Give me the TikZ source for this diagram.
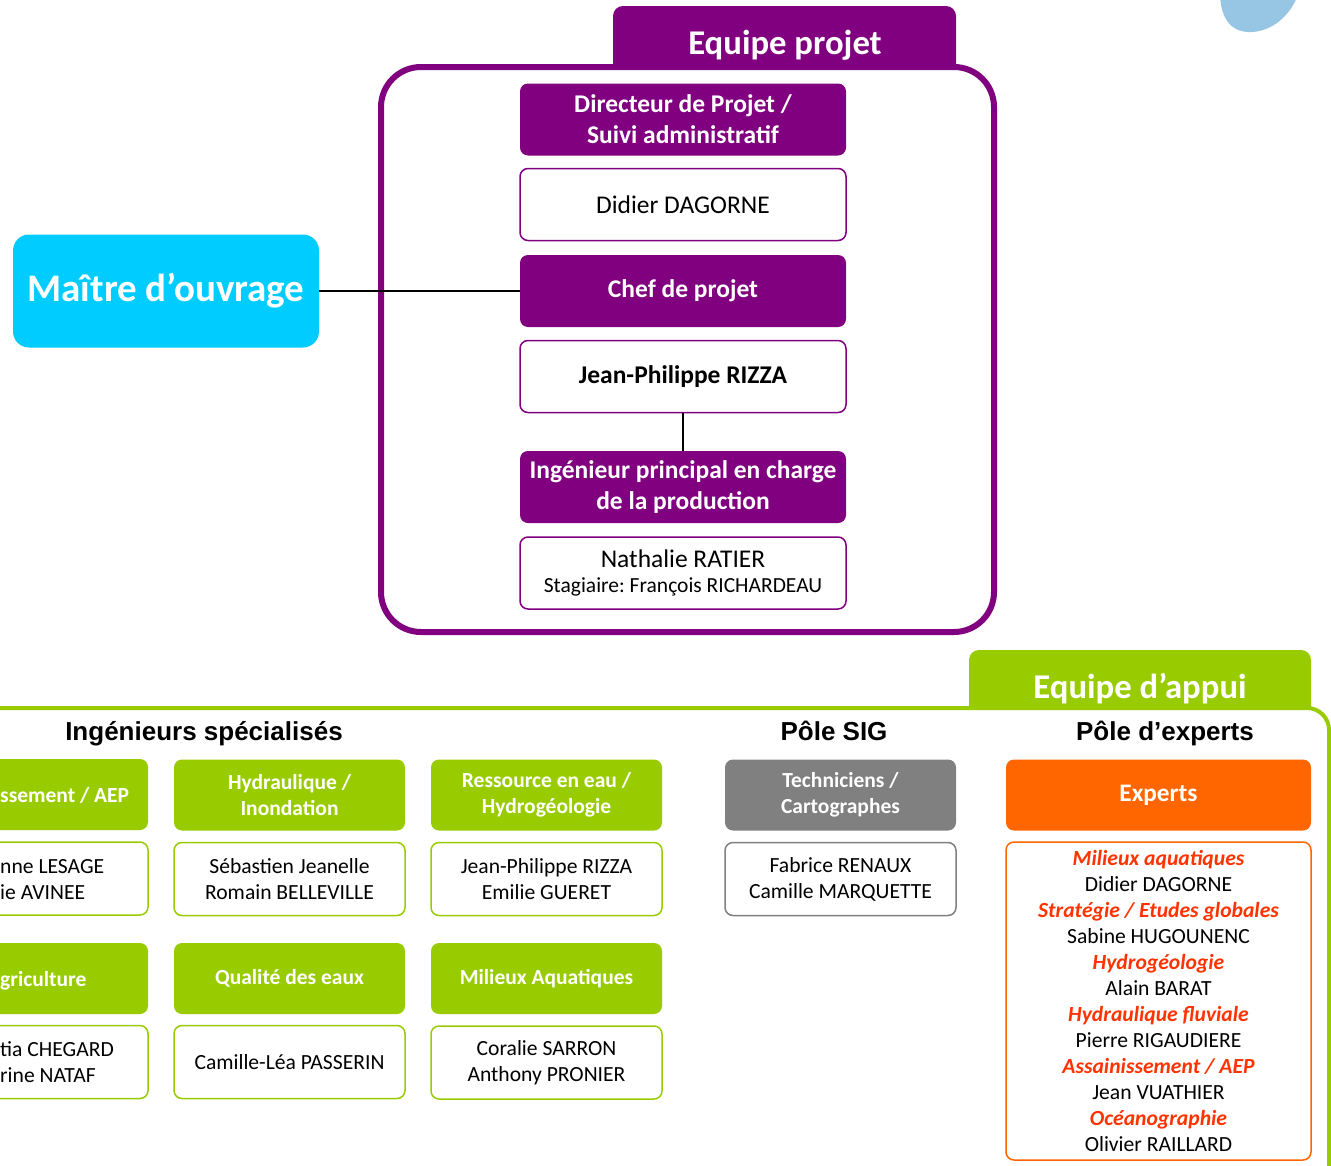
\documentclass[tikz,border=0pt]{standalone}
\usepackage{fontspec}
\setmainfont{Carlito}
\newfontfamily\arialfont{Liberation Sans}
\definecolor{projpurple}{RGB}{128,0,128}
\definecolor{moblue}{RGB}{0,204,255}
\definecolor{appuigreen}{RGB}{153,204,0}
\definecolor{sigrey}{RGB}{128,128,128}
\definecolor{exporange}{RGB}{255,102,0}
\definecolor{expred}{RGB}{255,51,0}
\definecolor{blobblue}{RGB}{150,198,228}
\newcommand{\exph}[1]{{\color{expred}\bfseries\itshape #1}}
\frenchspacing
\tikzset{
  projtitle/.style={rounded corners=8, inner sep=0pt, minimum width=326pt,
    minimum height=72pt, align=center, fill=projpurple, text=white,
    font=\fontsize{25.5}{31}\selectfont\bfseries},
  projname/.style={projtitle, fill=white, draw=projpurple, line width=1.5pt,
    text=black, font=\fontsize{25.5}{28}\selectfont},
  spectitle/.style={rounded corners=8, inner sep=0pt, minimum width=231pt,
    minimum height=71pt, align=center, fill=appuigreen, text=white,
    font=\fontsize{21.5}{26}\selectfont\bfseries},
  specname/.style={rounded corners=8, inner sep=0pt, minimum width=231pt,
    minimum height=73pt, align=center, fill=white, draw=appuigreen,
    line width=1.5pt, font=\fontsize{21.6}{26}\selectfont},
  sigtitle/.style={spectitle, fill=sigrey},
  signame/.style={specname, draw=sigrey},
  poletitle/.style={anchor=base, font=\arialfont\fontsize{26}{28}\selectfont\bfseries},
  tabtext/.style={text=white, font=\fontsize{34.7}{36}\selectfont\bfseries},
  cut/.style={anchor=base west, inner sep=0pt, font=\fontsize{21.6}{26}\selectfont},
  cuttitle/.style={cut, text=white, font=\fontsize{21.5}{26}\selectfont\bfseries}
}
\begin{document}
\begin{tikzpicture}[x=1pt, y=-1pt]
  \clip (0,0) rectangle (1331,1165);
  \fill[white] (0,0) rectangle (1331,1165);
  % blob in the corner
  \fill[blobblue] (1220,-5) .. controls (1221,22) and (1234,33) .. (1252,32)
    .. controls (1272,31) and (1290,16) .. (1298,-5) -- cycle;

  % equipe projet
  \fill[projpurple] (613,66) [rounded corners=10] -- (613,6) -- (956,6)
    [sharp corners] -- (956,66) -- cycle;
  \node[tabtext] (projtab) at (785,45) {Equipe projet};
  \draw[projpurple, line width=6pt, rounded corners=40] (381,67) rectangle (994,632);

  \node[projtitle] (dirtitle) at (683,119.5) {Directeur de Projet /\\Suivi administratif};
  \node[projname] (dirname) at (683,204.5) {Didier DAGORNE};
  \node[projtitle] (cheftitle) at (683,291) {Chef de projet};
  \node[projname, font=\fontsize{25.5}{28}\selectfont\bfseries] (chefname) at (683,376.5) {Jean-Philippe RIZZA};
  \node[projtitle] (ingtitle) at (683,487) {Ingénieur principal en charge\\de la production};
  \node[projname] (ingname) at (683,573) {Nathalie RATIER\\[-3pt]{\fontsize{21.5}{24}\selectfont Stagiaire: François RICHARDEAU}};

  \node[rounded corners=16, fill=moblue, inner sep=0pt, minimum width=306pt,
    minimum height=113pt, text=white, font=\fontsize{39}{40}\selectfont\bfseries]
    (mo) at (166,291) {Maître d’ouvrage};

  \draw[line width=1.5pt] (mo.east) -- (cheftitle.west);
  \draw[line width=1.2pt] (chefname.south) -- (ingtitle.north);

  % equipe d'appui
  \fill[appuigreen] (969,708) [rounded corners=10] -- (969,650) -- (1311,650)
    [sharp corners] -- (1311,708) -- cycle;
  \node[tabtext] (appuitab) at (1140,689) {Equipe d’appui};
  \draw[appuigreen, line width=4pt, rounded corners=22] (-10,708) -- (1329,708) -- (1329,1200);

  \node[poletitle] (ingpole) at (204,740) {Ingénieurs spécialisés};
  \node[poletitle] (sigpole) at (834,740) {Pôle SIG};
  \node[poletitle] (exppole) at (1165,740) {Pôle d’experts};

  \node[spectitle] (assaintitle) at (32.5,794.5) {};
  \node[cuttitle] (assainT) at (0,802) {ssement / AEP};
  \node[specname] (assainname) at (32.5,878.5) {};
  \node[cut] (assainA) at (0,873) {nne LESAGE};
  \node[cut] (assainB) at (0,899) {ie AVINEE};
  \node[spectitle] (hydrotitle) at (289.5,795) {Hydraulique /\\Inondation};
  \node[specname] (hydroname) at (289.5,879) {Sébastien Jeanelle\\Romain BELLEVILLE};
  \node[spectitle] (restitle) at (546.5,795) {Ressource en eau /\\Hydrogéologie};
  \node[specname] (resname) at (546.5,879) {Jean-Philippe RIZZA\\Emilie GUERET};

  \node[spectitle] (agrititle) at (32.5,978.5) {};
  \node[cuttitle] (agriT) at (0,986) {griculture};
  \node[specname] (agriname) at (32.5,1062) {};
  \node[cut] (agriA) at (0,1056) {tia CHEGARD};
  \node[cut] (agriB) at (0,1082) {rine NATAF};
  \node[spectitle] (qualtitle) at (289.5,978.5) {Qualité des eaux};
  \node[specname] (qualname) at (289.5,1062) {Camille-Léa PASSERIN};
  \node[spectitle] (miltitle) at (546.5,978.5) {Milieux Aquatiques};
  \node[specname] (milname) at (546.5,1062.5) {Coralie SARRON\\Anthony PRONIER};

  \node[sigtitle] (sigtitle) at (840.5,795) {Techniciens /\\Cartographes};
  \node[signame] (signame) at (840.5,879) {Fabrice RENAUX\\Camille MARQUETTE};

  \node[spectitle, fill=exporange, minimum width=305pt, font=\fontsize{25.3}{26}\selectfont\bfseries]
    (exptitle) at (1158.5,795) {Experts};
  \node[specname, draw=exporange, minimum width=305pt, minimum height=318pt]
    (expname) at (1158.5,1001) {\exph{Milieux aquatiques}\\Didier DAGORNE\\
    \exph{Stratégie / Etudes globales}\\Sabine HUGOUNENC\\
    \exph{Hydrogéologie}\\Alain BARAT\\
    \exph{Hydraulique fluviale}\\Pierre RIGAUDIERE\\
    \exph{Assainissement / AEP}\\Jean VUATHIER\\
    \exph{Océanographie}\\Olivier RAILLARD};
\end{tikzpicture}
\end{document}
